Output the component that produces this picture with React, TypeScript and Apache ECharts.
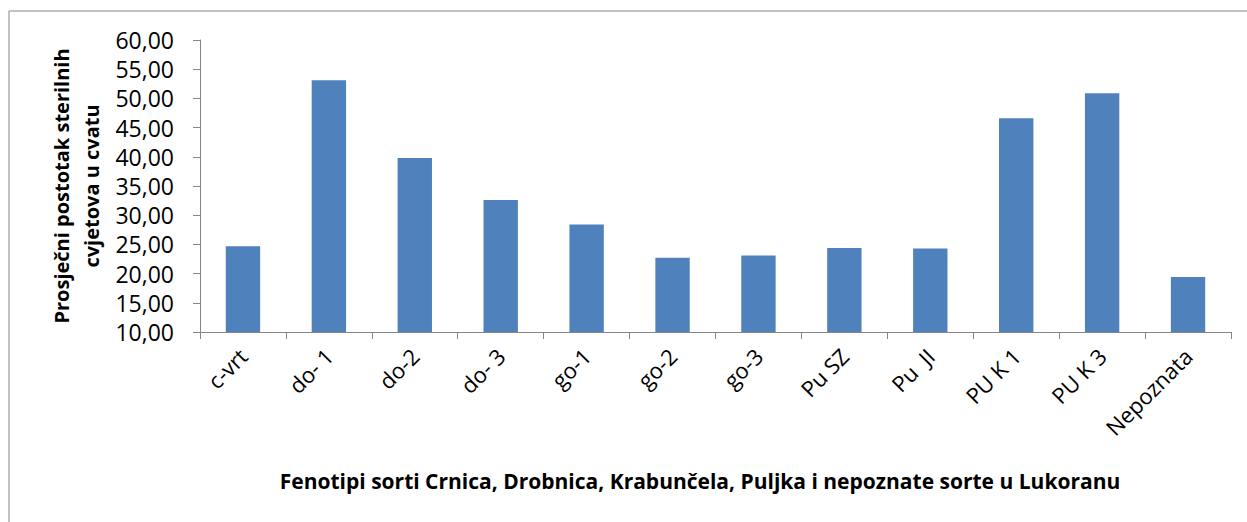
import React, { useEffect, useRef } from "react";
import * as echarts from "echarts";

const categories = ["c-vrt", "do- 1", "do-2", "do- 3", "go-1", "go-2", "go-3", "Pu SZ", "Pu  JI", "PU K 1", "PU K 3", "Nepoznata"];
const values = [24.7, 53.1, 39.8, 32.6, 28.4, 22.7, 23.1, 24.4, 24.3, 46.6, 50.9, 19.4];
const yAxisTitle = "Prosječni postotak sterilnih\ncvjetova u cvatu";
const xAxisTitle = "Fenotipi sorti Crnica, Drobnica, Krabunčela, Puljka i nepoznate sorte u Lukoranu";

const FONT = "'Open Sans', 'Noto Sans', sans-serif";
const AXIS = "#868686";

export default function App() {
  const ref = useRef<HTMLDivElement>(null);
  useEffect(() => {
    if (!ref.current) return;
    const chart = echarts.init(ref.current, null, { renderer: "svg" });
    chart.setOption({
      animation: false,
      backgroundColor: "#ffffff",
      grid: { left: 200, top: 40, right: 16, bottom: 190, containLabel: false },
      xAxis: {
        type: "category",
        data: categories,
        boundaryGap: true,
        axisLine: { lineStyle: { color: AXIS, width: 1 } },
        axisTick: { show: true, length: 7, lineStyle: { color: AXIS } },
        axisLabel: { rotate: 45, margin: 20, color: "#000", fontSize: 22, fontFamily: FONT, interval: 0 },
      },
      yAxis: {
        type: "value",
        min: 10,
        max: 60,
        interval: 5,
        splitLine: { show: false },
        axisLine: { show: true, lineStyle: { color: AXIS, width: 1 } },
        axisTick: { show: true, length: 7, lineStyle: { color: AXIS } },
        axisLabel: {
          margin: 26,
          color: "#000",
          fontSize: 23,
          fontFamily: FONT,
          formatter: (v: number) => v.toFixed(2).replace(".", ","),
        },
      },
      series: [
        {
          type: "bar",
          data: values,
          barWidth: "40%",
          itemStyle: { color: "#4F81BD" },
        },
      ],
      graphic: [
        {
          type: "rect",
          shape: { x: 9, y: 11, width: 1400, height: 700 },
          style: { fill: "none", stroke: AXIS, lineWidth: 1 },
          silent: true,
        },
        {
          type: "text",
          x: 76,
          y: 186,
          rotation: Math.PI / 2,
          style: {
            text: yAxisTitle,
            fill: "#000",
            font: `bold 20px ${FONT}`,
            textAlign: "center",
            textVerticalAlign: "middle",
            lineHeight: 30,
          },
        },
        {
          type: "text",
          x: 700,
          y: 481,
          style: {
            text: xAxisTitle,
            fill: "#000",
            font: `bold 21px ${FONT}`,
            textAlign: "center",
            textVerticalAlign: "middle",
          },
        },
      ],
    });
    return () => chart.dispose();
  }, []);
  return <div ref={ref} style={{ position: "absolute", left: 0, top: 0, width: 1247, height: 522 }} />;
}
